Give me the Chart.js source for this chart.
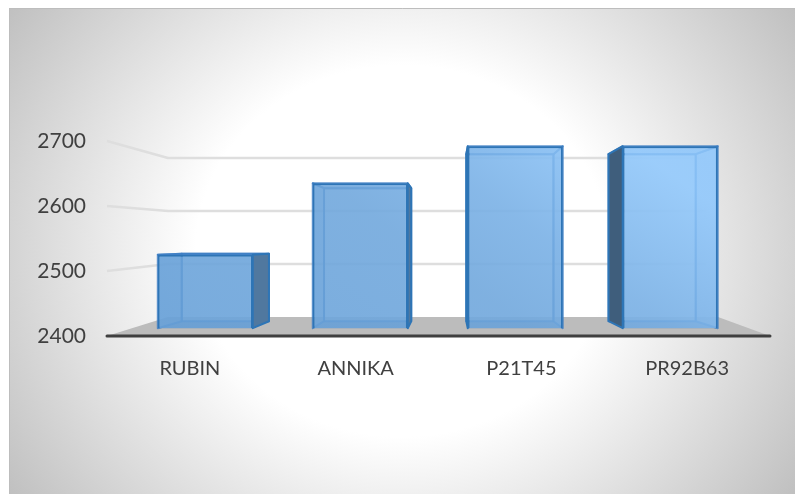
<!DOCTYPE html>
<html>
<head>
<meta charset="utf-8">
<style>
  html, body { margin: 0; padding: 0; background: #fff; }
  canvas { position: absolute; left: 0; top: 0; filter: blur(0.35px); }
</style>
</head>
<body>
<canvas id="chart" width="795" height="494"></canvas>
<script src="https://cdn.jsdelivr.net/npm/chart.js@4"></script>
<script>
const categories = ['RUBIN', 'ANNIKA', 'P21T45', 'PR92B63'];
const values = [2525, 2635, 2692, 2692];
const yTicks = [2400, 2500, 2600, 2700];

// perspective of the fake 3d box, worked out from the picture
const VP = { x: 450, y: 243 };
const FRONT_CX = 427;       // centre the bars get squeezed around
const FRONT_SCALE = 0.935;  // bars stand a bit behind the axis plane
const DEPTH = 0.082;        // how far the rear of a bar shrinks to the vanishing point
const BAR_BASE = 2412;
const FLOOR = { frontL: 107, frontR: 770, backL: 168, backR: 718, backY: 317 };

function frontX(x) { return FRONT_CX + (x - FRONT_CX) * FRONT_SCALE; }
function rearX(x) { return x + (VP.x - x) * DEPTH; }
function rearY(y) { return y + (VP.y - y) * DEPTH; }

function poly(ctx, pts, fill, stroke) {
  ctx.beginPath();
  pts.forEach((p, i) => i ? ctx.lineTo(p[0], p[1]) : ctx.moveTo(p[0], p[1]));
  ctx.closePath();
  if (fill) { ctx.fillStyle = fill; ctx.fill(); }
  if (stroke) { ctx.strokeStyle = stroke; ctx.stroke(); }
}

const background = {
  id: 'background',
  beforeDraw(chart) {
    const ctx = chart.ctx;
    ctx.save();
    ctx.fillStyle = '#fff';
    ctx.fillRect(0, 0, 795, 494);
    ctx.beginPath();
    ctx.rect(9, 8, 786, 486);
    ctx.clip();
    ctx.translate(402, 251);
    ctx.scale(1, 0.9);
    const g = ctx.createRadialGradient(0, 0, 0, 0, 0, 491);
    g.addColorStop(0, '#ffffff');
    g.addColorStop(0.42, '#ffffff');
    g.addColorStop(0.97, '#c0c0c0');
    g.addColorStop(1, '#bfbfbf');
    ctx.fillStyle = g;
    ctx.fillRect(-500, -500, 1000, 1000);
    ctx.restore();
    ctx.strokeStyle = '#bdbdbd';
    ctx.lineWidth = 1;
    ctx.beginPath();
    ctx.moveTo(9.5, 494);
    ctx.lineTo(9.5, 8.5);
    ctx.lineTo(795, 8.5);
    ctx.stroke();
  }
};

const floorAndGrid = {
  id: 'floorAndGrid',
  beforeDatasetsDraw(chart) {
    const ctx = chart.ctx, y = chart.scales.y;
    const y0 = y.getPixelForValue(yTicks[0]);
    ctx.save();
    poly(ctx, [[FLOOR.frontL, y0], [FLOOR.backL, FLOOR.backY], [FLOOR.backR, FLOOR.backY], [FLOOR.frontR, y0]], '#bcbcbc');
    ctx.lineWidth = 2.5;
    ctx.lineJoin = 'round';
    ctx.strokeStyle = '#dedede';
    yTicks.slice(1).forEach(t => {
      const fy = y.getPixelForValue(t);
      const by = FLOOR.backY + (fy - y0) * 53 / 65;
      ctx.beginPath();
      ctx.moveTo(FLOOR.frontL, fy);
      ctx.lineTo(FLOOR.backL, by);
      ctx.lineTo(706, by);
      ctx.stroke();
    });
    ctx.restore();
    // rear faces and sides of every bar
    const meta = chart.getDatasetMeta(0);
    meta.data.forEach(bar => {
      const fl = frontX(bar.x - bar.width / 2), fr = frontX(bar.x + bar.width / 2);
      const ft = bar.y, fb = bar.base;
      const rl = rearX(fl), rr = rearX(fr), rt = rearY(ft), rb = rearY(fb);
      ctx.save();
      ctx.lineJoin = 'round';
      ctx.lineWidth = 2;
      // inner faces seen through the front
      poly(ctx, [[fl, fb], [fr, fb], [rr, rb], [rl, rb]], 'rgba(63,126,190,0.55)');
      poly(ctx, [[rl, rt], [rr, rt], [rr, rb], [rl, rb]], 'rgba(120,175,230,0.5)', 'rgba(60,125,195,0.85)');
      if (rl > fl) poly(ctx, [[fl, ft], [rl, rt], [rl, rb], [fl, fb]], 'rgba(85,150,215,0.55)', 'rgba(60,125,195,0.8)');
      if (rr < fr) poly(ctx, [[fr, ft], [rr, rt], [rr, rb], [fr, fb]], 'rgba(110,165,225,0.55)', 'rgba(60,125,195,0.8)');
      poly(ctx, [[fl, ft], [fr, ft], [rr, rt], [rl, rt]], 'rgba(85,150,215,0.5)', 'rgba(60,125,195,0.8)');
      // outer sides, these are the dark ones
      if (rr > fr) poly(ctx, [[fr, ft], [rr, rt], [rr, rb], [fr, fb]], '#50789f', '#2e75b6');
      if (rl < fl) poly(ctx, [[fl, ft], [rl, rt], [rl, rb], [fl, fb]], '#3f5e7c', '#2e75b6');
      ctx.restore();
    });
  },
  beforeDatasetDraw(chart) {
    // squeeze the real bars towards the vanishing point
    const ctx = chart.ctx;
    ctx.save();
    ctx.translate(FRONT_CX, 0);
    ctx.scale(FRONT_SCALE, 1);
    ctx.translate(-FRONT_CX, 0);
  },
  afterDatasetDraw(chart) {
    chart.ctx.restore();
  },
  afterDatasetsDraw(chart) {
    const ctx = chart.ctx, y0 = chart.scales.y.getPixelForValue(yTicks[0]);
    ctx.save();
    ctx.lineCap = 'round';
    ctx.lineWidth = 3;
    ctx.strokeStyle = '#3f3f3f';
    ctx.beginPath();
    ctx.moveTo(FLOOR.frontL, y0);
    ctx.lineTo(FLOOR.frontR, y0);
    ctx.stroke();
    ctx.restore();
  }
};

function barFill(c) {
  const g = c.chart.ctx.createLinearGradient(158, 328, 392, -23);
  g.addColorStop(0, 'rgba(106,162,216,0.82)');
  g.addColorStop(0.5, 'rgba(114,168,220,0.82)');
  g.addColorStop(0.7, 'rgba(124,178,230,0.82)');
  g.addColorStop(1, 'rgba(150,204,254,0.82)');
  return g;
}

new Chart(document.getElementById('chart'), {
  type: 'bar',
  data: {
    labels: categories,
    datasets: [{
      data: values,
      base: BAR_BASE,
      backgroundColor: barFill,
      borderColor: '#2e75b6',
      borderWidth: 2,
      barPercentage: 0.613,
      categoryPercentage: 1
    }]
  },
  options: {
    responsive: false,
    animation: false,
    events: [],
    layout: { padding: { top: 141, right: 25, left: 0, bottom: 0 } },
    plugins: { legend: { display: false }, tooltip: { enabled: false }, title: { display: false } },
    scales: {
      x: {
        grid: { display: false },
        border: { display: false },
        ticks: { color: '#404040', font: { family: 'Lato', size: 20 }, padding: 13, maxRotation: 0 },
        afterFit(s) { s.height = 158; }
      },
      y: {
        min: yTicks[0],
        max: yTicks[yTicks.length - 1],
        grid: { display: false },
        border: { display: false },
        afterBuildTicks(s) { s.ticks = yTicks.map(v => ({ value: v })); },
        ticks: { color: '#404040', font: { family: 'Lato', size: 21 }, padding: 13, callback: v => String(v) },
        afterFit(s) { s.width = 107; }
      }
    }
  },
  plugins: [background, floorAndGrid]
});
</script>
</body>
</html>
